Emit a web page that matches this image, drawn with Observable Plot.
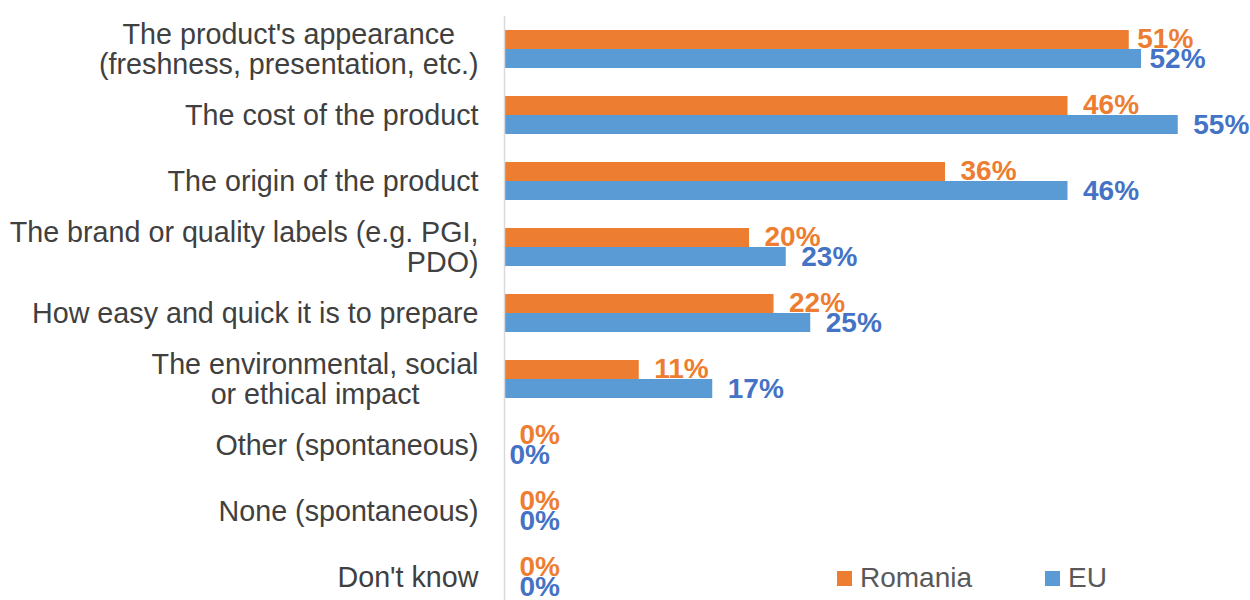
<!DOCTYPE html>
<html><head><meta charset="utf-8">
<script src="https://cdn.jsdelivr.net/npm/d3@7"></script>
<script src="https://cdn.jsdelivr.net/npm/@observablehq/plot@0.6"></script>
<style>
body{margin:0;background:#fff;font-family:"Liberation Sans",Arial,sans-serif;}
#wrap{position:relative;width:1250px;height:600px;overflow:hidden;}
.lg{position:absolute;top:561px;display:flex;align-items:center;font-size:28px;color:#595959;line-height:34px;}
.lg span.sw{display:inline-block;width:15px;height:15px;margin-right:8px;}
</style></head><body><div id="wrap"></div>
<script>
const categories = [
  "The product's appearance\n(freshness, presentation, etc.)",
  "The cost of the product",
  "The origin of the product",
  "The brand or quality labels (e.g. PGI,\nPDO)",
  "How easy and quick it is to prepare",
  "The environmental, social\nor ethical impact",
  "Other (spontaneous)",
  "None (spontaneous)",
  "Don't know"
];
const romania = [51, 46, 36, 20, 22, 11, 0, 0, 0];
const eu = [52, 55, 46, 23, 25, 17, 0, 0, 0];
const seriesNames = ["Romania", "EU"];
const colors = {Romania: "#ED7D31", EU: "#5B9BD5"};
const labelColors = {Romania: "#ED7D31", EU: "#4472C4"};

const rows = categories.flatMap((c, i) => [
  {category: c, series: "Romania", value: romania[i], idx: i},
  {category: c, series: "EU", value: eu[i], idx: i}
]);
const ro = rows.filter(d => d.series === "Romania");
const euRows = rows.filter(d => d.series === "EU");

// label horizontal offset groups (as seen in the reference)
function dxFor(d) {
  if (d.idx === 0) return 8;
  if (d.idx === 6 && d.series === "EU") return 5;
  return 15;
}
function labelMarks(data, dy, fill) {
  const groups = d3.group(data, dxFor);
  return [...groups].map(([dx, g]) => Plot.text(g, {
    x: "value", y: "category", text: d => d.value + "%",
    textAnchor: "start", dx, dy, fill, fontSize: 28, fontWeight: "bold"
  }));
}

const chart = Plot.plot({
  width: 1250, height: 600,
  marginLeft: 504, marginRight: 11, marginTop: 16, marginBottom: 0,
  style: {fontFamily: "'Liberation Sans', Arial, sans-serif", background: "#fff"},
  x: {domain: [0, 60], axis: null},
  y: {domain: categories, range: [16, 610], padding: 0, axis: null},
  marks: [
    Plot.barX(ro, {x: "value", y: "category", fill: colors.Romania, insetTop: 14, insetBottom: 33}),
    Plot.barX(euRows, {x: "value", y: "category", fill: colors.EU, insetTop: 33, insetBottom: 14}),
    Plot.ruleX([0], {stroke: "#D9D9D9", strokeWidth: 1.5}),
    ...labelMarks(ro, -10, labelColors.Romania),
    ...labelMarks(euRows, 10, labelColors.EU),
    Plot.text(categories, {
      x: 0, y: d => d, text: d => d, textAnchor: "end", dx: -26,
      fontSize: 28.7, fill: "#404040", lineHeight: 30 / 28.7, className: "catlab"
    })
  ]
});
const wrap = document.getElementById("wrap");
wrap.appendChild(chart);

// center the lines of wrapped labels that are centered in the reference
const centered = new Set([categories[0], categories[5]]);
chart.querySelectorAll("g.catlab text").forEach(t => {
  const tspans = [...t.querySelectorAll("tspan")];
  if (tspans.length < 2) return;
  const full = tspans.map(s => s.textContent).join("\n");
  if (!centered.has(full)) return;
  const widths = tspans.map(s => s.getComputedTextLength());
  const maxW = Math.max(...widths);
  tspans.forEach(s => { s.setAttribute("text-anchor", "middle"); s.setAttribute("x", -maxW / 2); });
});

// legend
const legendPos = {Romania: 837, EU: 1045};
seriesNames.forEach(n => {
  const el = document.createElement("div");
  el.className = "lg";
  el.style.left = legendPos[n] + "px";
  el.innerHTML = `<span class="sw" style="background:${colors[n]}"></span>${n}`;
  wrap.appendChild(el);
});
</script></body></html>
